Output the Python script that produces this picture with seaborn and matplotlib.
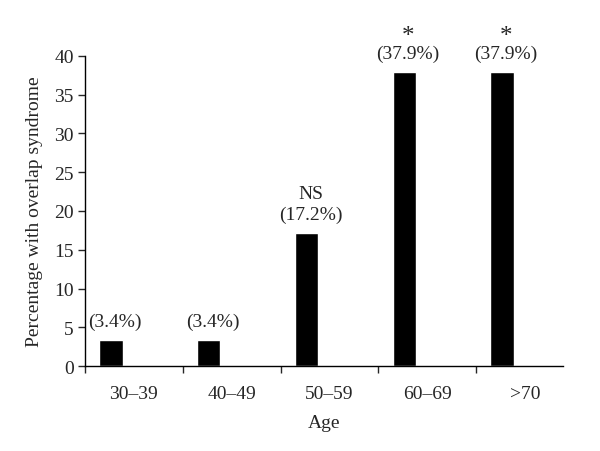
import pandas as pd
import matplotlib.pyplot as plt
import seaborn as sns

ages = ['30–39', '40–49', '50–59', '60–69', '>70']
percent = [3.4, 3.4, 17.2, 37.9, 37.9]
value_text = ['(3.4%)', '(3.4%)', '(17.2%)', '(37.9%)', '(37.9%)']
signif = ['', '', 'NS', '*', '*']

df = pd.DataFrame({'Age': ages, 'Percent': percent})

sns.set_style('ticks')
plt.rcParams['font.family'] = ['Liberation Serif', 'DejaVu Serif']

fig = plt.figure(figsize=(6, 4.52), dpi=100)
ax = fig.add_axes([0.1417, 0.188, 0.797, 0.686])
sns.barplot(data=df, x='Age', y='Percent', order=ages, color='black',
            width=0.24, saturation=1, ax=ax)

for i, (v, t, s) in enumerate(zip(percent, value_text, signif)):
    ax.text(i + 0.04, v + 2.4, t, ha='center', va='center', fontsize=14)
    if s == '*':
        ax.text(i + 0.04, v + 4.7, s, ha='center', va='center', fontsize=18)
    elif s:
        ax.text(i + 0.04, v + 5.0, s, ha='center', va='center', fontsize=14)

# category boundaries as major ticks, names centred between them
ax.set_xlim(-0.265, 4.625)
ax.set_xticks([-0.265 + k for k in range(5)])
ax.set_xticklabels([])
ax.set_xticks([0.235 + k for k in range(5)], minor=True)
ax.set_xticklabels(ages, minor=True)
ax.tick_params(axis='x', which='minor', length=0, pad=14, labelsize=14)
ax.tick_params(axis='x', which='major', length=5, width=1, direction='out')
ax.tick_params(axis='y', length=5, width=1, direction='out', labelsize=14,
               pad=3)

ax.set_ylim(0, 40)
ax.set_yticks(range(0, 41, 5))
ax.set_xlabel('Age', fontsize=14, labelpad=8)
ax.set_ylabel('Percentage with overlap syndrome', fontsize=14, labelpad=8)
for s in ['top', 'right']:
    ax.spines[s].set_visible(False)
for s in ['left', 'bottom']:
    ax.spines[s].set_color('black')
    ax.spines[s].set_linewidth(1)

plt.savefig('out.png', dpi=100)
